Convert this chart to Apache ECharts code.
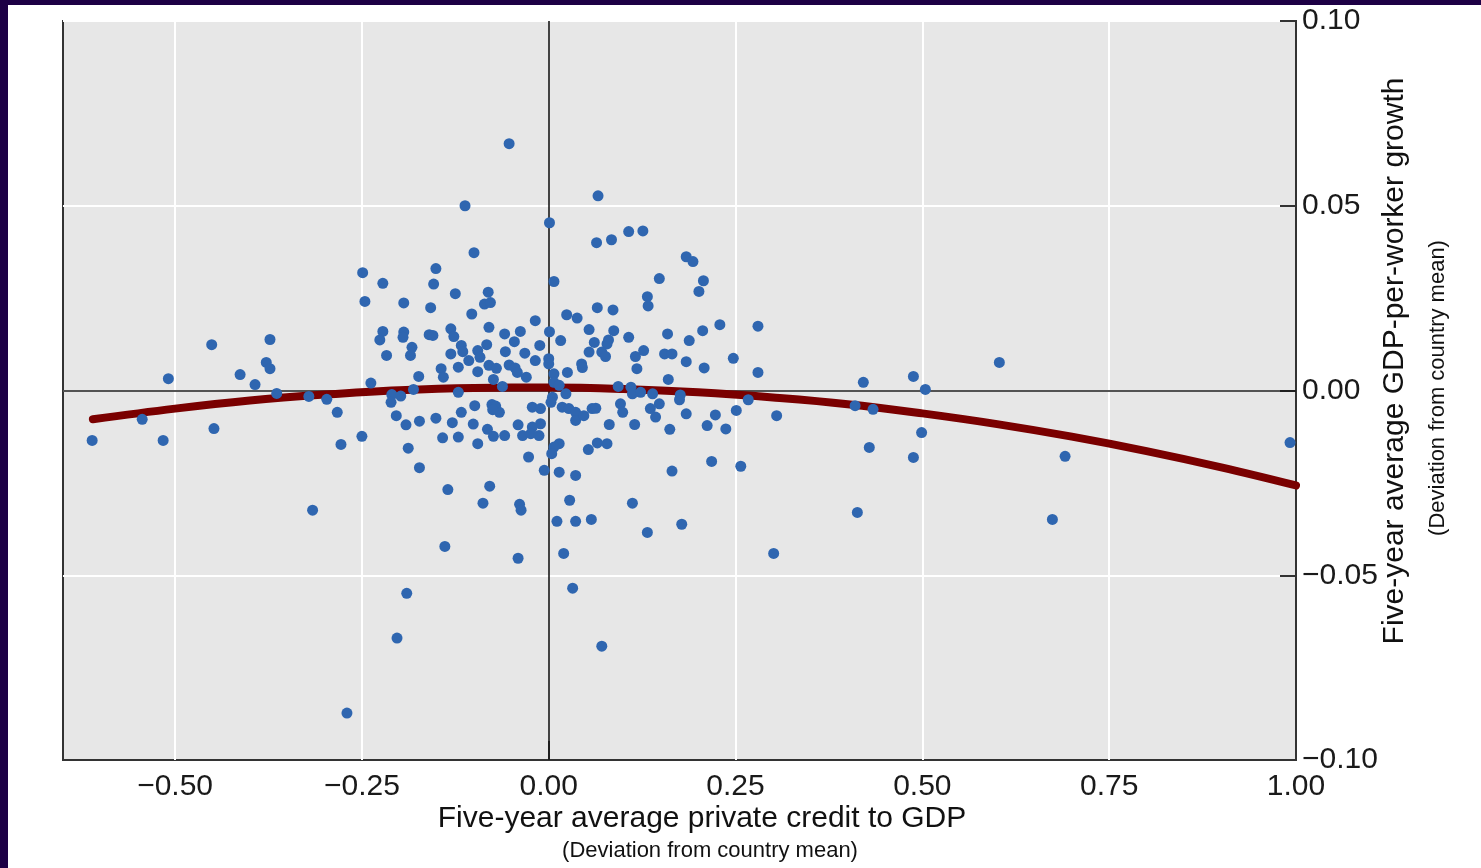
<!DOCTYPE html>
<html><head><meta charset="utf-8">
<script src="https://cdn.jsdelivr.net/npm/echarts@6/dist/echarts.min.js"></script>
<style>
html,body{margin:0;padding:0;background:#1d0045;width:1481px;height:868px;overflow:hidden}
#chart{position:absolute;left:8px;top:5px;width:1473px;height:863px;background:#fff}
</style></head><body><div id="chart"></div>
<script>
// ---- data ----
const xTicks = [-0.5, -0.25, 0, 0.25, 0.5, 0.75, 1.0];
const yTicks = [-0.10, -0.05, 0, 0.05, 0.10];
const xTitle = 'Five-year average private credit to GDP';
const yTitle = 'Five-year average GDP-per-worker growth';
const subTitle = '(Deviation from country mean)';

// fitted curve
const fitX = [-0.61, -0.5, -0.4, -0.3, -0.2, -0.1, 0, 0.1, 0.2, 0.3, 0.4, 0.5, 0.6, 0.7, 0.8, 0.9, 1.0];
const fitY = [-0.0078, -0.0049, -0.0027, -0.0011, 0.0001, 0.0007, 0.0008, 0.0004, -0.0005, -0.0019, -0.0037, -0.0062, -0.0091, -0.0125, -0.0164, -0.0208, -0.0257];

// scatter points [credit deviation, growth deviation]
const points = [
[-0.611,-0.0135],[-0.544,-0.0078],[-0.516,-0.0135],[-0.509,0.0032],[-0.451,0.0124],[-0.448,-0.0103],
[-0.413,0.0043],[-0.393,0.0016],[-0.378,0.0076],[-0.373,0.0059],[-0.373,0.0138],[-0.364,-0.0008],
[-0.321,-0.0016],[-0.297,-0.0024],[-0.283,-0.0059],[-0.278,-0.0146],[-0.316,-0.0324],[-0.270,-0.0873],
[-0.222,0.0290],[-0.154,0.0288],[-0.246,0.0241],[-0.194,0.0237],[-0.158,0.0224],[-0.125,0.0262],
[-0.081,0.0266],[-0.086,0.0234],[-0.078,0.0238],[-0.103,0.0207],[-0.222,0.0160],[-0.226,0.0137],
[-0.194,0.0158],[-0.195,0.0144],[-0.160,0.0151],[-0.155,0.0149],[-0.131,0.0167],[-0.080,0.0171],
[-0.217,0.0095],[-0.183,0.0117],[-0.185,0.0095],[-0.127,0.0146],[-0.117,0.0122],[-0.115,0.0105],
[-0.131,0.0099],[-0.107,0.0081],[-0.095,0.0108],[-0.092,0.0090],[-0.083,0.0124],[-0.059,0.0153],
[-0.046,0.0132],[-0.038,0.0160],[-0.058,0.0105],[-0.032,0.0101],[-0.144,0.0059],[-0.141,0.0036],
[-0.174,0.0038],[-0.121,0.0063],[-0.095,0.0051],[-0.080,0.0068],[-0.070,0.0060],[-0.053,0.0069],
[-0.045,0.0061],[-0.042,0.0049],[-0.030,0.0036],[-0.238,0.0020],[-0.181,0.0003],[-0.210,-0.0011],
[-0.211,-0.0032],[-0.198,-0.0015],[-0.121,-0.0005],[-0.074,0.0030],[-0.062,0.0011],[-0.204,-0.0068],
[-0.191,-0.0093],[-0.173,-0.0083],[-0.151,-0.0075],[-0.129,-0.0087],[-0.117,-0.0059],[-0.099,-0.0041],
[-0.101,-0.0091],[-0.076,-0.0038],[-0.071,-0.0042],[-0.066,-0.0059],[-0.075,-0.0052],[-0.082,-0.0105],
[-0.074,-0.0124],[-0.059,-0.0122],[-0.041,-0.0093],[-0.035,-0.0122],[-0.250,-0.0124],[-0.188,-0.0156],
[-0.142,-0.0128],[-0.121,-0.0126],[-0.095,-0.0144],[-0.173,-0.0209],[-0.027,-0.0180],
[0.007,0.0295],[0.132,0.0254],[0.133,0.0229],[-0.018,0.0189],[0.024,0.0205],[0.038,0.0196],
[0.065,0.0224],[0.086,0.0218],[0.001,0.0159],[0.016,0.0135],[0.054,0.0165],[0.087,0.0162],
[0.061,0.0130],[0.080,0.0137],[0.078,0.0126],[0.107,0.0144],[0.159,0.0153],[0.188,0.0135],
[0.206,0.0162],[-0.012,0.0122],[-0.018,0.0081],[0.000,0.0086],[0.000,0.0072],[0.054,0.0104],
[0.071,0.0104],[0.076,0.0092],[0.044,0.0072],[0.045,0.0062],[0.025,0.0049],[0.116,0.0092],
[0.127,0.0108],[0.155,0.0099],[0.165,0.0099],[0.184,0.0078],[0.118,0.0059],[0.160,0.0030],
[0.007,0.0045],[0.007,0.0022],[0.014,0.0014],[0.023,-0.0009],[0.005,-0.0018],[0.003,-0.0032],
[0.093,0.0011],[0.110,0.0009],[0.112,-0.0009],[0.123,-0.0005],[0.139,-0.0009],[0.176,-0.0012],
[0.175,-0.0025],[0.096,-0.0036],[0.099,-0.0059],[0.136,-0.0049],[0.148,-0.0036],[0.143,-0.0072],
[0.184,-0.0063],[-0.022,-0.0045],[-0.011,-0.0049],[0.018,-0.0045],[0.027,-0.0049],[0.036,-0.0059],
[0.036,-0.0081],[0.047,-0.0068],[0.058,-0.0049],[0.063,-0.0048],[-0.011,-0.0090],[-0.022,-0.0099],
[0.081,-0.0092],[0.115,-0.0092],[0.162,-0.0105],[-0.024,-0.0117],[-0.013,-0.0122],[0.014,-0.0144],
[0.007,-0.0153],[0.004,-0.0171],[0.053,-0.0160],[0.065,-0.0142],[0.078,-0.0144],[-0.006,-0.0216],
[0.014,-0.0221],[0.165,-0.0218],[0.036,-0.0230],
[0.207,0.0297],[0.229,0.0178],[0.280,0.0174],[0.247,0.0087],[0.208,0.0061],[0.280,0.0049],
[0.267,-0.0025],[0.251,-0.0054],[0.223,-0.0066],[0.305,-0.0068],[0.212,-0.0095],[0.237,-0.0104],
[0.218,-0.0192],[0.257,-0.0205],
[-0.053,0.0668],[-0.112,0.0500],[0.001,0.0454],[0.066,0.0527],[0.064,0.0400],[0.084,0.0408],
[0.107,0.0430],[0.126,0.0432],[-0.100,0.0373],[-0.249,0.0319],[-0.151,0.0330],[0.184,0.0362],
[0.193,0.0349],[0.148,0.0303],[0.201,0.0268],
[-0.203,-0.0670],[-0.190,-0.0549],[-0.139,-0.0422],[-0.135,-0.0268],[-0.079,-0.0259],[-0.088,-0.0305],
[-0.039,-0.0308],[-0.037,-0.0324],[-0.041,-0.0454],[0.011,-0.0354],[0.020,-0.0441],[0.032,-0.0535],
[0.028,-0.0297],[0.036,-0.0354],[0.057,-0.0349],[0.071,-0.0692],[0.112,-0.0305],[0.132,-0.0384],
[0.178,-0.0362],[0.301,-0.0441],
[0.421,0.0022],[0.410,-0.0041],[0.434,-0.0051],[0.429,-0.0154],[0.413,-0.0330],[0.488,0.0038],
[0.504,0.0003],[0.488,-0.0181],[0.499,-0.0114],[0.603,0.0076],[0.691,-0.0178],[0.674,-0.0349],
[0.992,-0.0141]
];

// ---- chart ----
const FONT = '"Liberation Sans", Arial, sans-serif';
const fmt = v => (v < 0 ? '\u2212' : '') + Math.abs(v).toFixed(2);
const chart = echarts.init(document.getElementById('chart'), null, {renderer: 'canvas'});

const gridLines = xTicks.filter(v => v !== 0 && v < 1).map(v => ({
  xAxis: v, lineStyle: {color: '#ffffff', width: 2, type: 'solid'}
}));
const zeroLines = [
  {xAxis: 0, lineStyle: {color: '#1a1a1a', width: 1.6, type: 'solid'}},
  {yAxis: 0, lineStyle: {color: '#1a1a1a', width: 1.6, type: 'solid'}}
];

chart.setOption({
  animation: false,
  backgroundColor: '#ffffff',
  grid: {
    left: 55, top: 16, width: 1233, height: 739,
    show: true, backgroundColor: '#e7e7e7', borderColor: '#333333', borderWidth: 2,
    containLabel: false
  },
  xAxis: {
    type: 'value', min: -0.65, max: 1.0,
    axisLine: {show: true, onZero: false, lineStyle: {color: '#333333', width: 2}},
    axisTick: {show: true, inside: true, length: 19, customValues: xTicks,
      lineStyle: {color: '#333333', width: 2}},
    axisLabel: {show: true, customValues: xTicks, formatter: fmt, margin: 12,
      fontFamily: FONT, fontSize: 30, color: '#1a1a1a', showMinLabel: true, showMaxLabel: true},
    splitLine: {show: false}
  },
  yAxis: {
    type: 'value', position: 'right', min: -0.1, max: 0.1, interval: 0.05,
    axisLine: {show: true, onZero: false, lineStyle: {color: '#333333', width: 2}},
    axisTick: {show: true, inside: true, length: 16, lineStyle: {color: '#333333', width: 2}},
    axisLabel: {show: true, formatter: fmt, margin: 6, fontFamily: FONT, fontSize: 30,
      color: '#1a1a1a', showMinLabel: true, showMaxLabel: true},
    splitLine: {show: true, lineStyle: {color: '#ffffff', width: 2}}
  },
  series: [
    {
      type: 'line', z: 3, smooth: 0.4, showSymbol: false, symbol: 'none', clip: true,
      data: fitX.map((x, i) => [x, fitY[i]]),
      lineStyle: {color: '#7a0000', width: 8, cap: 'round', join: 'round'},
      emphasis: {disabled: true}, silent: true,
      markLine: {
        z: 1, silent: true, symbol: ['none', 'none'], label: {show: false},
        emphasis: {disabled: true}, animation: false,
        data: gridLines.concat(zeroLines)
      }
    },
    {
      type: 'scatter', z: 4, symbol: 'circle', symbolSize: 11, clip: true,
      data: points,
      itemStyle: {color: '#2f66b0', opacity: 1},
      emphasis: {disabled: true}, silent: true
    }
  ],
  graphic: [
    {type: 'text', x: 694, y: 814, silent: true,
      style: {text: xTitle, font: '30px ' + FONT, fill: '#111111', textAlign: 'center', textVerticalAlign: 'middle'}},
    {type: 'text', x: 702, y: 846, silent: true,
      style: {text: subTitle, font: '22px ' + FONT, fill: '#111111', textAlign: 'center', textVerticalAlign: 'middle'}},
    {type: 'text', x: 1387, y: 356, rotation: Math.PI / 2, silent: true,
      style: {text: yTitle, font: '30px ' + FONT, fill: '#111111', textAlign: 'center', textVerticalAlign: 'middle'}},
    {type: 'text', x: 1430, y: 383, rotation: Math.PI / 2, silent: true,
      style: {text: subTitle, font: '22px ' + FONT, fill: '#111111', textAlign: 'center', textVerticalAlign: 'middle'}}
  ]
});
</script></body></html>
